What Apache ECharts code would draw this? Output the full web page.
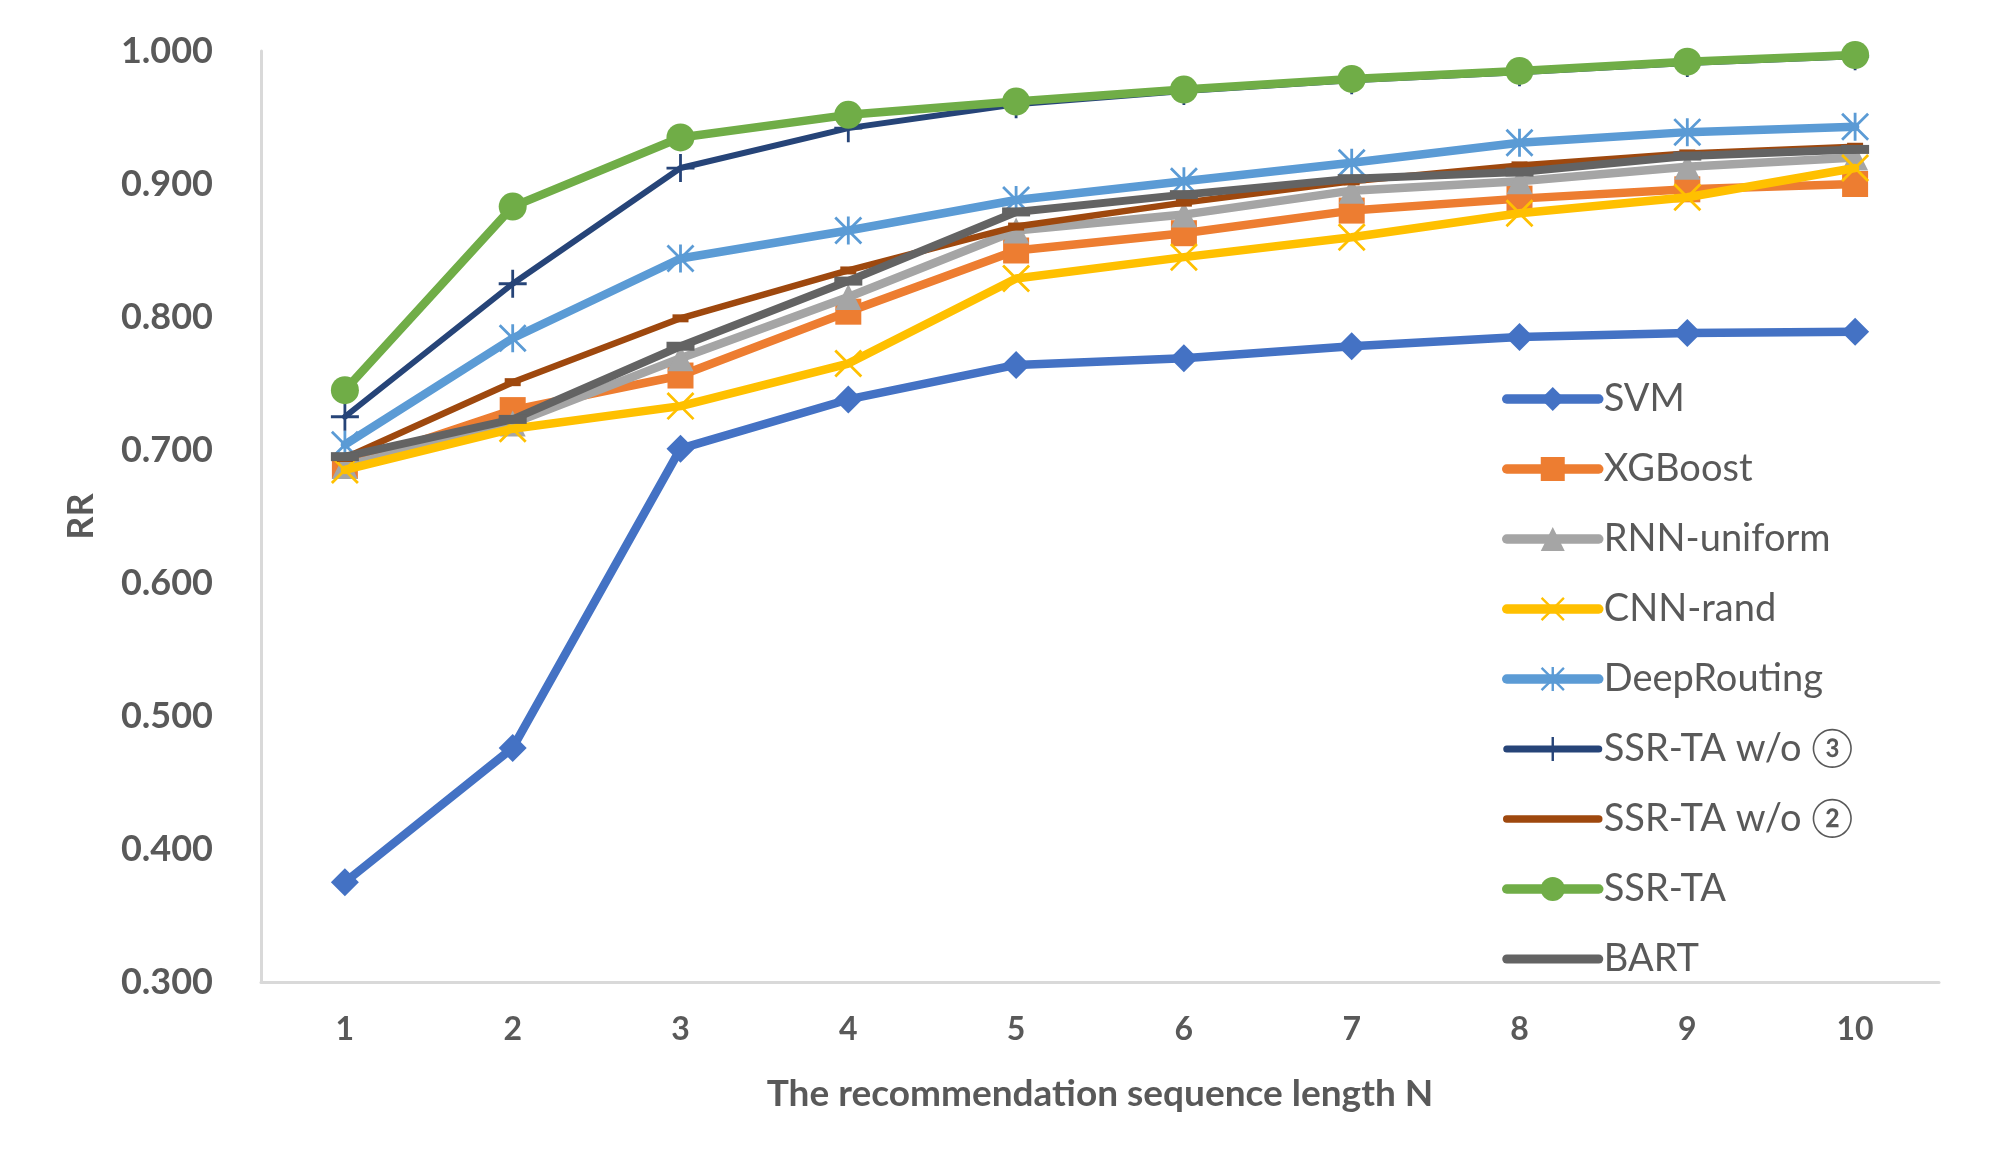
<!DOCTYPE html>
<html>
<head>
<meta charset="utf-8">
<script src="https://cdn.jsdelivr.net/npm/echarts@6/dist/echarts.min.js"></script>
<style>
html,body{margin:0;padding:0;background:#fff;}
#chart{width:1990px;height:1172px;}
</style>
</head>
<body>
<div id="chart"></div>
<script>
const categories = ['1','2','3','4','5','6','7','8','9','10'];
const yTicks = {min: 0.3, max: 1.0, interval: 0.1};
const seriesNames = ['SVM','XGBoost','RNN-uniform','CNN-rand','DeepRouting','SSR-TA w/o ③','SSR-TA w/o ②','SSR-TA','BART'];
const svm         = [0.375,0.476,0.701,0.738,0.764,0.769,0.778,0.785,0.788,0.789];
const xgboost     = [0.688,0.730,0.756,0.804,0.850,0.863,0.880,0.889,0.896,0.900];
const rnnUniform  = [0.688,0.720,0.769,0.815,0.865,0.877,0.895,0.902,0.913,0.920];
const cnnRand     = [0.685,0.716,0.733,0.765,0.829,0.845,0.860,0.878,0.890,0.912];
const deepRouting = [0.704,0.784,0.844,0.865,0.888,0.902,0.916,0.931,0.939,0.943];
const ssrWo3      = [0.725,0.825,0.912,0.942,0.960,0.970,0.978,0.984,0.991,0.996];
const ssrWo2      = [0.694,0.751,0.799,0.835,0.868,0.886,0.902,0.914,0.923,0.928];
const ssrTa       = [0.745,0.883,0.935,0.952,0.962,0.971,0.979,0.985,0.992,0.997];
const bart        = [0.695,0.723,0.778,0.827,0.879,0.892,0.904,0.909,0.921,0.926];

const colors = ['#4472C4','#ED7D31','#A5A5A5','#FFC000','#5B9BD5','#264478','#9E480E','#70AD47','#636363'];
const xPath = 'path://M0,7 L7,0 L100,93 L93,100 Z M93,0 L100,7 L7,100 L0,93 Z';
const starPath = 'path://M0,7 L7,0 L100,93 L93,100 Z M93,0 L100,7 L7,100 L0,93 Z M45,0 L55,0 L55,100 L45,100 Z';
const plusPath = 'path://M45,0 L55,0 L55,100 L45,100 Z M0,45 L100,45 L100,55 L0,55 Z';

const dataSets = [svm, xgboost, rnnUniform, cnnRand, deepRouting, ssrWo3, ssrWo2, ssrTa, bart];
const symbols = ['diamond','rect','triangle',xPath,starPath,plusPath,'rect','circle','rect'];
const symbolSizes = [28,26,26,28,28,28,[16,8],28,[28,9]];
const lineWidths = [8.5,8.5,8.5,8.5,8.5,6,6.5,8.5,8];

const textColor = '#595959';
const font = 'Lato';

const series = dataSets.map((d, i) => ({
  name: seriesNames[i],
  type: 'line',
  data: d,
  symbol: symbols[i],
  symbolSize: symbolSizes[i],
  showSymbol: true,
  lineStyle: {color: colors[i], width: lineWidths[i], cap: 'round', join: 'round'},
  itemStyle: {color: colors[i], borderWidth: 0},
  z: 2 + i,
  emphasis: {disabled: true}
}));

const legendData = seriesNames.map((n, i) => {
  const item = {name: n, lineStyle: {width: lineWidths[i] + 1, cap: 'round', color: colors[i]}};
  if (i === 6 || i === 8) item.itemStyle = {opacity: 0};
  return item;
});

const chart = echarts.init(document.getElementById('chart'));
chart.setOption({
  animation: false,
  color: colors,
  grid: {left: 261, right: 51, top: 51, bottom: 190, containLabel: false},
  xAxis: {
    type: 'category',
    data: categories,
    boundaryGap: true,
    name: 'The recommendation sequence length N',
    nameLocation: 'middle',
    nameGap: 94,
    nameTextStyle: {color: textColor, fontFamily: font, fontWeight: 'bold', fontSize: 37},
    axisLine: {show: true, lineStyle: {color: '#D9D9D9', width: 3}},
    axisTick: {show: false},
    axisLabel: {color: textColor, fontFamily: font, fontWeight: 'bold', fontSize: 32, margin: 32},
    splitLine: {show: false}
  },
  yAxis: {
    type: 'value',
    min: yTicks.min,
    max: yTicks.max,
    interval: yTicks.interval,
    name: 'RR',
    nameLocation: 'middle',
    nameGap: 162,
    nameTextStyle: {color: textColor, fontFamily: font, fontWeight: 'bold', fontSize: 36},
    axisLine: {show: true, lineStyle: {color: '#D9D9D9', width: 3}},
    axisTick: {show: false},
    splitLine: {show: false},
    axisLabel: {
      color: textColor, fontFamily: font, fontWeight: 'bold', fontSize: 36, margin: 48,
      formatter: v => v.toFixed(3)
    }
  },
  legend: {
    orient: 'vertical',
    left: 1497,
    top: 374,
    itemWidth: 92,
    itemHeight: 30,
    itemGap: 30,
    data: legendData,
    textStyle: {color: textColor, fontFamily: font, fontSize: 38, lineHeight: 40},
    inactiveColor: '#ccc'
  },
  series: series
});
</script>
</body>
</html>
